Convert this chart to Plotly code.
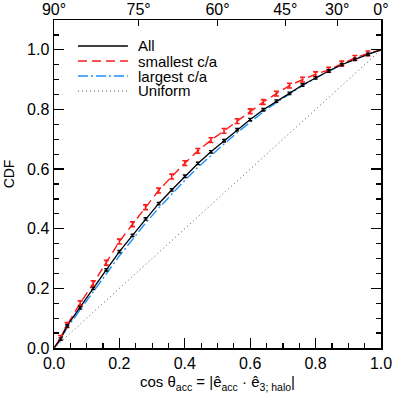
import numpy as np
import plotly.graph_objects as go

# ---- data ----
cos_x = [0.0, 0.02, 0.04, 0.08, 0.12, 0.16, 0.20, 0.24, 0.28, 0.32, 0.36, 0.40, 0.44,
         0.48, 0.52, 0.56, 0.60, 0.64, 0.68, 0.72, 0.76, 0.80, 0.84, 0.88, 0.92, 0.96, 1.0]

cdf_all = [0.0, 0.030, 0.074, 0.135, 0.200, 0.262, 0.323, 0.378, 0.433, 0.484, 0.530,
           0.576, 0.619, 0.658, 0.695, 0.732, 0.766, 0.799, 0.828, 0.854, 0.882, 0.906,
           0.929, 0.950, 0.968, 0.985, 1.0]

cdf_small = [0.0, 0.034, 0.077, 0.150, 0.217, 0.286, 0.357, 0.415, 0.472, 0.528, 0.575,
             0.620, 0.661, 0.697, 0.728, 0.761, 0.794, 0.825, 0.853, 0.880, 0.900, 0.918,
             0.933, 0.954, 0.973, 0.988, 1.0]

cdf_large = [0.0, 0.027, 0.068, 0.128, 0.189, 0.249, 0.309, 0.364, 0.419, 0.469, 0.516,
             0.562, 0.606, 0.646, 0.684, 0.722, 0.758, 0.792, 0.823, 0.851, 0.880, 0.905,
             0.929, 0.951, 0.969, 0.986, 1.0]

err_all = [0.004] * 25
err_small = [0.008] * 25

uniform_x = [0.0, 1.0]
uniform_y = [0.0, 1.0]

top_deg = [90, 75, 60, 45, 30, 0]
top_labels = ["90°", "75°", "60°", "45°", "30°", "0°"]

legend_names = ["All", "smallest c/a", "largest c/a", "Uniform"]
legend_colors = ["black", "#ff1a1a", "#1e90ff", "#555555"]
legend_dash = ["solid", "9px,5px", "10px,3px,2px,3px", "1px,3px"]

FONT = "Liberation Sans, Arial, Helvetica, sans-serif"

fig = go.Figure()

# lines
fig.add_trace(go.Scatter(x=cos_x, y=cdf_large, mode="lines",
                         line=dict(color=legend_colors[2], width=1.4, dash=legend_dash[2]),
                         showlegend=False, hoverinfo="skip"))
fig.add_trace(go.Scatter(x=cos_x, y=cdf_small, mode="lines",
                         line=dict(color=legend_colors[1], width=1.4, dash=legend_dash[1]),
                         showlegend=False, hoverinfo="skip"))
fig.add_trace(go.Scatter(x=cos_x, y=cdf_all, mode="lines",
                         line=dict(color="black", width=1.3),
                         showlegend=False, hoverinfo="skip"))

# error bars (interior points only)
fig.add_trace(go.Scatter(x=cos_x[1:-1], y=cdf_small[1:-1], mode="markers",
                         marker=dict(size=1, color=legend_colors[1]),
                         error_y=dict(type="data", array=err_small, color=legend_colors[1],
                                      thickness=1.6, width=2.5),
                         showlegend=False, hoverinfo="skip"))
fig.add_trace(go.Scatter(x=cos_x[1:-1], y=cdf_all[1:-1], mode="markers",
                         marker=dict(size=1, color="black"),
                         error_y=dict(type="data", array=err_all, color="black",
                                      thickness=1.4, width=2),
                         showlegend=False, hoverinfo="skip"))

# uniform line on overlay axes
fig.add_trace(go.Scatter(x=uniform_x, y=uniform_y, mode="lines", xaxis="x2", yaxis="y2",
                         line=dict(color=legend_colors[3], width=1, dash=legend_dash[3]),
                         showlegend=False, hoverinfo="skip"))

# manual legend
x0, x1 = 0.0734, 0.226
row_px = [46, 61, 76, 91]
shapes = []
annotations = []
for name, col, dsh, ypx in zip(legend_names, legend_colors, legend_dash, row_px):
    yp = (348 - ypx) / 328
    shapes.append(dict(type="line", xref="paper", yref="paper", x0=x0, x1=x1, y0=yp, y1=yp,
                       line=dict(color=col, width=1.4 if dsh != legend_dash[3] else 1,
                                 dash=dsh)))
    annotations.append(dict(xref="paper", yref="paper", x=0.257, y=yp, text=name,
                            showarrow=False, xanchor="left", yanchor="middle",
                            borderpad=0, borderwidth=0,
                            font=dict(size=15, color="black", family=FONT)))

# y-axis title
annotations.append(dict(xref="paper", yref="paper", x=-0.137, y=0.53, text="CDF",
                        textangle=-90, showarrow=False, xanchor="center", yanchor="middle",
                        font=dict(size=14, color="black", family=FONT)))

axis_common = dict(showgrid=False, zeroline=False, showline=True, linecolor="black",
                   linewidth=1.5, ticks="inside", tickcolor="black", tickwidth=1.2,
                   automargin=False)

fig.update_layout(
    width=393, height=393,
    margin=dict(l=54, r=12, t=20, b=45, autoexpand=False),
    plot_bgcolor="white", paper_bgcolor="white",
    font=dict(family=FONT, size=16, color="black"),
    showlegend=False,
    xaxis=dict(range=[0, 1], tickvals=[0, 0.2, 0.4, 0.6, 0.8, 1.0],
               ticktext=["0.0", "0.2", "0.4", "0.6", "0.8", "1.0"],
               ticklen=10, minor=dict(ticks="inside", dtick=0.05, ticklen=5,
                                      tickcolor="black", tickwidth=1.2),
               title=dict(text="cos θ<sub>acc</sub> = |ê<sub>acc</sub> · ê<sub>3; halo</sub>|",
                          font=dict(size=15), standoff=6),
               **axis_common),
    yaxis=dict(range=[0, 1.1], tickvals=[0, 0.2, 0.4, 0.6, 0.8, 1.0],
               ticktext=["0.0", "0.2", "0.4", "0.6", "0.8", "1.0"],
               ticklen=10, minor=dict(ticks="inside", dtick=0.05, ticklen=5,
                                      tickcolor="black", tickwidth=1.2),
               **axis_common),
    xaxis2=dict(range=[0, 1], overlaying="x", side="top", anchor="y2",
                tickvals=[float(np.cos(np.radians(d))) for d in top_deg],
                ticktext=top_labels, ticklen=6, tickfont=dict(size=16),
                ticklabelstandoff=-3,
                **axis_common),
    yaxis2=dict(range=[0, 1.1], overlaying="y", side="right", anchor="x2",
                tickvals=[0, 0.2, 0.4, 0.6, 0.8, 1.0], showticklabels=False,
                ticklen=10, minor=dict(ticks="inside", dtick=0.05, ticklen=5,
                                       tickcolor="black", tickwidth=1.2),
                **axis_common),
    shapes=shapes,
    annotations=annotations,
)

fig.write_html("out.html", config={"displayModeBar": False, "staticPlot": True},
               post_script="document.body.style.margin='0';")
